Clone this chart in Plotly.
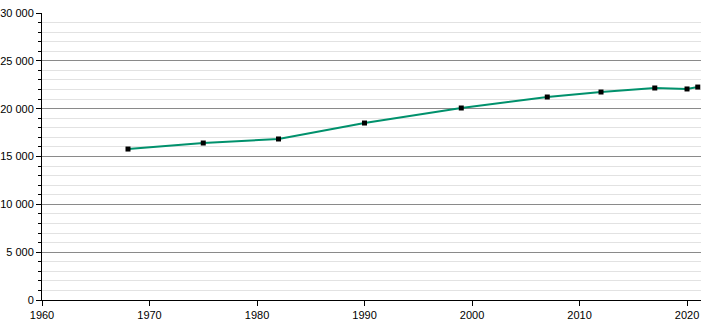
import plotly.graph_objects as go

years = [1968, 1975, 1982, 1990, 1999, 2007, 2012, 2017, 2020, 2021]
population = [15780, 16410, 16830, 18500, 20070, 21220, 21740, 22160, 22060, 22260]

y_ticks = [0, 5000, 10000, 15000, 20000, 25000, 30000]
x_ticks = [1960, 1970, 1980, 1990, 2000, 2010, 2020]

fig = go.Figure()
fig.add_trace(go.Scatter(
    x=years, y=population, mode="lines+markers",
    line=dict(color="#00916c", width=2),
    marker=dict(symbol="square", size=5, color="black"),
    hoverinfo="skip",
))

fig.update_layout(
    template="none",
    width=710, height=320,
    margin=dict(l=42, r=9, t=13, b=20, autoexpand=False),
    paper_bgcolor="white", plot_bgcolor="white",
    separators=". ",
    showlegend=False,
    font=dict(family="Liberation Sans, Arial, sans-serif", size=11, color="black"),
)
fig.update_xaxes(
    range=[1960, 2021.3], tickvals=x_ticks, showgrid=False, automargin=False,
    showline=True, linecolor="black", linewidth=1,
    ticks="outside", ticklen=5, tickcolor="black", zeroline=False,
    tickfont=dict(color="black", size=11),
)
fig.update_yaxes(
    range=[0, 30000], tickvals=y_ticks, tickformat=",d", automargin=False,
    showgrid=True, gridcolor="#8a8a8a", gridwidth=1,
    showline=True, linecolor="black", linewidth=1,
    ticks="outside", ticklen=5, tickcolor="black", zeroline=False,
    tickfont=dict(color="black", size=11),
    minor=dict(tick0=0, dtick=1000, showgrid=True, gridcolor="#e2e2e2", gridwidth=1,
               ticks="outside", ticklen=3, tickcolor="black"),
)

fig.write_html("out.html")
